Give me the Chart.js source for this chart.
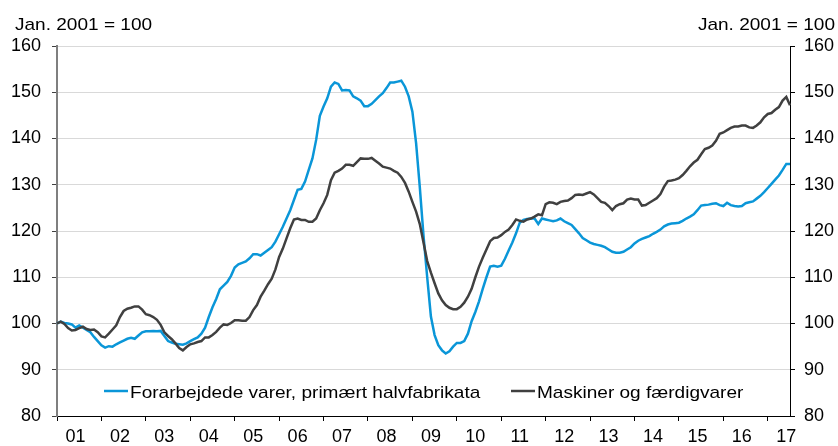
<!DOCTYPE html>
<html>
<head>
<meta charset="utf-8">
<script src="https://cdn.jsdelivr.net/npm/chart.js@4.4.0/dist/chart.umd.min.js"></script>
<style>
  html, body { margin: 0; padding: 0; background: #fff; }
</style>
</head>
<body>
<canvas id="chart" width="838" height="446"></canvas>
<script>
var unitLabel = 'Jan. 2001 = 100';
var yearLabels = ['01', '02', '03', '04', '05', '06', '07', '08', '09', '10', '11', '12', '13', '14', '15', '16', '17'];
var seriesNames = ['Forarbejdede varer, primært halvfabrikata', 'Maskiner og færdigvarer'];

// monthly index values, Jan 2001 - Jul 2017
var halvfabrikata = [
  100.0, 100.4, 100.1, 100.0, 99.8, 99.1, 99.6, 99.1, 98.6, 98.1, 97.1, 96.2,
  95.3, 94.8, 95.1, 95.0, 95.5, 95.9, 96.3, 96.7, 96.9, 96.7, 97.4, 98.1,
  98.3, 98.3, 98.4, 98.3, 98.4, 97.3, 96.2, 95.9, 95.6, 95.5, 95.4, 95.7,
  96.2, 96.6, 97.0, 97.8, 99.1, 101.4, 103.5, 105.3, 107.4, 108.2, 109.0, 110.3,
  112.1, 112.8, 113.1, 113.4, 114.1, 115.0, 115.0, 114.7, 115.3, 115.9, 116.5, 117.7,
  119.3, 120.9, 122.7, 124.5, 126.7, 128.9, 129.1, 130.7, 133.2, 135.7, 139.7, 144.9,
  146.9, 148.7, 151.2, 152.1, 151.8, 150.4, 150.5, 150.4, 149.1, 148.7, 148.2, 147.0,
  147.0, 147.5, 148.3, 149.1, 149.8, 150.9, 152.1, 152.1, 152.3, 152.5, 151.2, 149.1,
  145.8, 139.0, 129.5, 119.0, 110.0, 101.5, 97.5, 95.3, 94.2, 93.5, 94.0, 95.0,
  95.8, 95.8, 96.2, 97.8, 100.5, 102.5, 104.8, 107.5, 110.0, 112.3, 112.5, 112.3,
  112.5, 114.0, 115.8, 117.5, 119.5, 121.8, 122.4, 122.6, 122.7, 122.7, 121.5, 122.7,
  122.5, 122.3, 122.1, 122.3, 122.7, 122.1, 121.7, 121.3, 120.4, 119.5, 118.5, 118.0,
  117.5, 117.2, 117.0, 116.8, 116.5, 116.0, 115.5, 115.3, 115.3, 115.5, 116.0, 116.5,
  117.3, 117.9, 118.3, 118.6, 118.9, 119.4, 119.8, 120.3, 121.0, 121.4, 121.6, 121.7,
  121.8, 122.2, 122.7, 123.1, 123.6, 124.5, 125.5, 125.6, 125.7, 125.9, 126.0, 125.6,
  125.4, 126.1, 125.6, 125.4, 125.3, 125.4, 126.0, 126.2, 126.4, 127.0, 127.6, 128.4,
  129.3, 130.2, 131.1, 132.0, 133.2, 134.5, 134.5
];
var faerdigvarer = [
  100.0, 100.4, 99.9, 99.0, 98.5, 98.6, 99.0, 99.3, 98.8, 98.6, 98.7, 98.1,
  97.2, 97.0, 97.8, 98.7, 99.6, 101.4, 102.7, 103.2, 103.4, 103.7, 103.7, 103.0,
  102.0, 101.8, 101.4, 100.8, 99.7, 98.1, 97.3, 96.6, 95.7, 94.7, 94.2, 94.9,
  95.5, 95.7, 96.0, 96.2, 97.0, 97.0, 97.5, 98.2, 99.1, 99.8, 99.7, 100.1,
  100.7, 100.7, 100.6, 100.6, 101.4, 102.9, 104.0, 105.8, 107.1, 108.5, 109.7, 111.7,
  114.4, 116.2, 118.4, 120.6, 122.5, 122.7, 122.4, 122.4, 122.0, 122.0, 122.7, 124.5,
  126.0, 127.8, 131.0, 132.6, 133.0, 133.5, 134.3, 134.3, 134.1, 134.9, 135.7, 135.6,
  135.6, 135.8, 135.2, 134.6, 133.9, 133.7, 133.5, 133.0, 132.6, 131.7, 130.4, 128.5,
  126.3, 124.2, 121.5, 117.5, 113.5, 111.0, 108.7, 106.5, 105.0, 104.0, 103.4, 103.1,
  103.1, 103.6, 104.5, 105.8, 107.5, 110.0, 112.3, 114.2, 116.0, 117.8, 118.5, 118.6,
  119.1, 119.8, 120.3, 121.3, 122.5, 122.2, 122.0, 122.5, 122.7, 123.1, 123.6, 123.4,
  125.8, 126.2, 126.1, 125.8, 126.3, 126.5, 126.6, 127.1, 127.8, 127.9, 127.8, 128.1,
  128.4, 127.9, 127.1, 126.3, 126.1, 125.4, 124.5, 125.4, 125.8, 126.0, 126.8, 127.0,
  126.8, 126.8, 125.5, 125.6, 126.1, 126.6, 127.1, 128.0, 129.6, 130.8, 130.9, 131.1,
  131.4, 132.1, 133.0, 134.0, 134.8, 135.4, 136.6, 137.7, 138.0, 138.5, 139.5, 141.0,
  141.3, 141.8, 142.3, 142.6, 142.6, 142.8, 142.8, 142.4, 142.3, 142.8, 143.5, 144.6,
  145.3, 145.5, 146.2, 146.8, 148.2, 149.0, 147.2
];

// one category per month
var months = [];
for (var i = 0; i < halvfabrikata.length; i++) {
  months.push((2001 + Math.floor(i / 12)) + '-' + ('0' + (i % 12 + 1)).slice(-2));
}

Chart.defaults.font.family = '"Liberation Sans", Arial, sans-serif';
Chart.defaults.font.size = 18;
Chart.defaults.color = '#000';

// the source font runs a bit wide, so stretch free text horizontally
function wideText(ctx, text, x, y, align) {
  var sx = 1.12;
  var w = ctx.measureText(text).width * sx;
  var left = align === 'right' ? x - w : x;
  ctx.save();
  ctx.translate(left, y);
  ctx.scale(sx, 1);
  ctx.textAlign = 'left';
  ctx.fillText(text, 0, 0);
  ctx.restore();
}

var extras = {
  id: 'extras',
  afterDraw: function (chart) {
    var ctx = chart.ctx;
    var area = chart.chartArea;
    ctx.save();
    ctx.font = '17px "Liberation Sans", Arial, sans-serif';
    ctx.fillStyle = '#000';
    ctx.textBaseline = 'alphabetic';
    wideText(ctx, unitLabel, 15, 30, 'left');
    wideText(ctx, unitLabel, 835, 30, 'right');

    // legend sits inside the plot, near the bottom
    var y = area.bottom - 25;
    var starts = [104, 511];
    chart.data.datasets.forEach(function (ds, i) {
      var x = starts[i];
      ctx.strokeStyle = ds.borderColor;
      ctx.lineWidth = ds.borderWidth;
      ctx.beginPath();
      ctx.moveTo(x, y);
      ctx.lineTo(x + 24, y);
      ctx.stroke();
      wideText(ctx, ds.label, x + 26, y + 7, 'left');
    });
    ctx.restore();
  }
};

var ctx = document.getElementById('chart').getContext('2d');
var chart = new Chart(ctx, {
  type: 'line',
  data: {
    labels: months,
    datasets: [{
      label: seriesNames[0],
      data: halvfabrikata,
      borderColor: '#0a96d8',
      borderWidth: 2.5,
      pointRadius: 0,
      order: 1
    }, {
      label: seriesNames[1],
      data: faerdigvarer,
      borderColor: '#404040',
      borderWidth: 2.5,
      pointRadius: 0,
      order: 0
    }]
  },
  options: {
    responsive: false,
    animation: false,
    layout: { padding: { top: 46, left: 0, right: 0, bottom: 0 } },
    plugins: {
      legend: { display: false },
      tooltip: { enabled: false }
    },
    scales: {
      x: {
        type: 'category',
        offset: false,
        grid: {
          drawOnChartArea: false,
          tickLength: 5,
          color: function (c) {
            return c.tick && c.tick.value % 12 === 0 ? '#000' : 'rgba(0,0,0,0)';
          }
        },
        border: { color: '#000', width: 1 },
        ticks: {
          autoSkip: false,
          maxRotation: 0,
          padding: 5,
          callback: function (value) {
            return value % 12 === 5 ? yearLabels[Math.floor(value / 12)] : '';
          }
        },
        afterBuildTicks: function (scale) {
          var t = [];
          for (var i = 0; i < months.length; i++) {
            if (i % 12 === 0 || i % 12 === 5) t.push({ value: i });
          }
          scale.ticks = t;
        },
        afterFit: function (scale) { scale.height = 30; }
      },
      y: {
        position: 'left',
        min: 80,
        max: 160,
        ticks: { stepSize: 10, padding: 11 },
        grid: { color: '#d9d9d9', lineWidth: 1, tickColor: '#404040', tickLength: 5 },
        border: { color: '#7f7f7f', width: 2 },
        afterFit: function (scale) { scale.width = 57; }
      },
      y2: {
        position: 'right',
        min: 80,
        max: 160,
        ticks: { stepSize: 10, padding: 9 },
        grid: { drawOnChartArea: false, color: '#000', tickLength: 5 },
        border: { color: '#000', width: 1 },
        afterFit: function (scale) { scale.width = 48; }
      }
    }
  },
  plugins: [extras]
});
</script>
</body>
</html>
